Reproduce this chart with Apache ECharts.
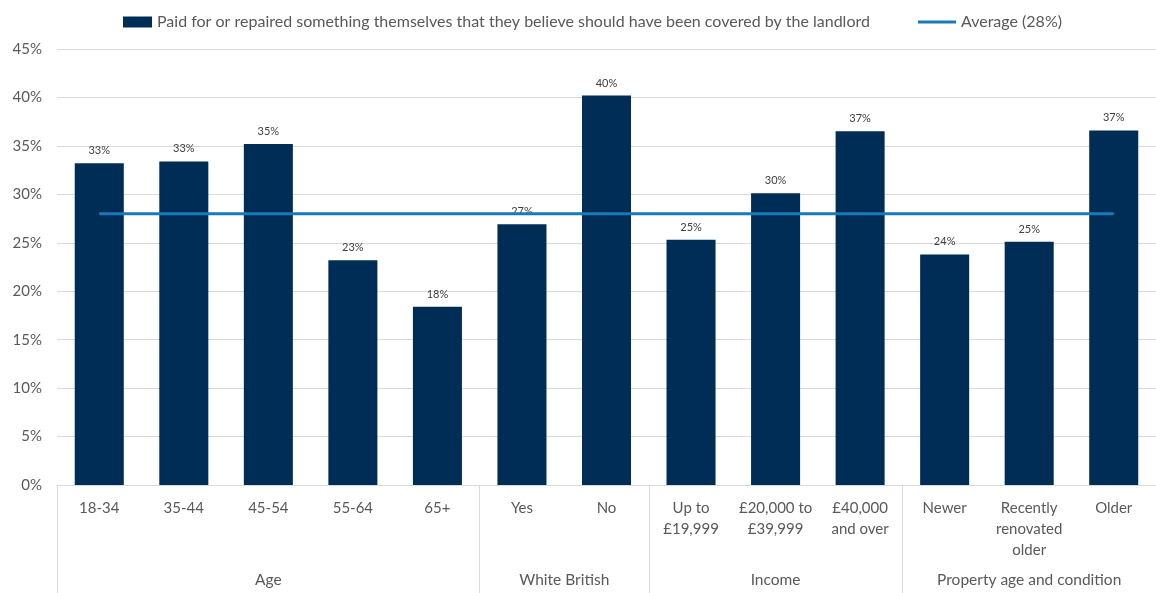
<!DOCTYPE html>
<html>
<head>
<meta charset="utf-8">
<script src="https://cdn.jsdelivr.net/npm/echarts@6/dist/echarts.min.js"></script>
<style>
  html, body { margin: 0; padding: 0; background: #ffffff; }
  #chart { width: 1156px; height: 593px; }
</style>
</head>
<body>
<div id="chart"></div>
<script>
// Category labels (inner level of the x axis)
const categories = [
  '18-34', '35-44', '45-54', '55-64', '65+',
  'Yes', 'No',
  'Up to\n£19,999', '£20,000 to\n£39,999', '£40,000\nand over',
  'Newer', 'Recently\nrenovated\nolder', 'Older'
];
// Share who paid for / repaired something the landlord should have covered (%)
const paidValues = [33.2, 33.4, 35.2, 23.2, 18.4, 26.9, 40.2, 25.3, 30.1, 36.5, 23.8, 25.1, 36.6];
// Overall average (%)
const averageValue = 28;
// Outer level of the x axis: group names and how many categories each spans
const groupNames = ['Age', 'White British', 'Income', 'Property age and condition'];
const groupSizes = [5, 2, 3, 3];
// Y axis ticks (%)
const yMin = 0, yMax = 45, yStep = 5;

const barName = 'Paid for or repaired something themselves that they believe should have been covered by the landlord';
const avgName = 'Average (28%)';

// Group boundaries and centres in category units
const groupEdges = [0];
groupSizes.forEach(n => groupEdges.push(groupEdges[groupEdges.length - 1] + n));
const groupCentres = groupNames.map((_, i) => (groupEdges[i] + groupEdges[i + 1]) / 2);

const FONT = 'Lato, "Open Sans", sans-serif';
const TEXT = '#595959';
const GRID = '#d9d9d9';
const BAR = '#002d56';
const LINE = '#1a7ab8';

const chart = echarts.init(document.getElementById('chart'), null, { renderer: 'canvas' });
chart.setOption({
  animation: false,
  backgroundColor: '#ffffff',
  textStyle: { fontFamily: FONT },
  legend: [
    {
      top: 9,
      left: 118,
      itemWidth: 29,
      itemHeight: 11,
      itemGap: 0,
      textStyle: { fontFamily: FONT, fontSize: 16, color: TEXT },
      data: [{ name: barName, icon: 'rect' }]
    },
    {
      top: 9,
      left: 913,
      itemWidth: 38,
      itemHeight: 3,
      itemGap: 0,
      textStyle: { fontFamily: FONT, fontSize: 16, color: TEXT },
      data: [{ name: avgName, icon: 'rect' }]
    }
  ],
  grid: { left: 57, right: 0, top: 49, bottom: 108, containLabel: false },
  xAxis: [
    {
      type: 'category',
      data: categories,
      axisLine: { lineStyle: { color: GRID, width: 1 } },
      axisTick: { show: false },
      axisLabel: {
        interval: 0,
        fontFamily: FONT,
        fontSize: 15,
        lineHeight: 21,
        color: TEXT,
        margin: 13
      }
    },
    {
      type: 'value',
      min: 0,
      max: categories.length,
      position: 'bottom',
      axisLine: { show: false },
      splitLine: { show: false },
      axisTick: {
        show: true,
        customValues: groupEdges,
        length: 110,
        lineStyle: { color: GRID, width: 1 }
      },
      axisLabel: {
        customValues: groupCentres,
        formatter: v => {
          const i = groupCentres.indexOf(v);
          return i >= 0 ? groupNames[i] : '';
        },
        fontFamily: FONT,
        fontSize: 15.5,
        color: TEXT,
        margin: 87
      }
    }
  ],
  yAxis: {
    type: 'value',
    min: yMin,
    max: yMax,
    interval: yStep,
    axisLine: { show: false },
    axisTick: { show: false },
    splitLine: { lineStyle: { color: GRID, width: 1 } },
    axisLabel: {
      formatter: v => v + '%',
      fontFamily: FONT,
      fontSize: 15,
      color: TEXT,
      margin: 15
    }
  },
  series: [
    {
      name: barName,
      type: 'bar',
      xAxisIndex: 0,
      data: paidValues,
      barWidth: '58%',
      itemStyle: { color: BAR },
      z: 2,
      label: {
        show: true,
        position: 'top',
        distance: 7,
        formatter: p => Math.round(p.value) + '%',
        fontFamily: FONT,
        fontSize: 11,
        color: '#404040'
      }
    },
    {
      name: avgName,
      type: 'line',
      xAxisIndex: 0,
      data: categories.map(() => averageValue),
      symbol: 'none',
      lineStyle: { color: LINE, width: 3 },
      itemStyle: { color: LINE },
      z: 5
    }
  ]
});
</script>
</body>
</html>
